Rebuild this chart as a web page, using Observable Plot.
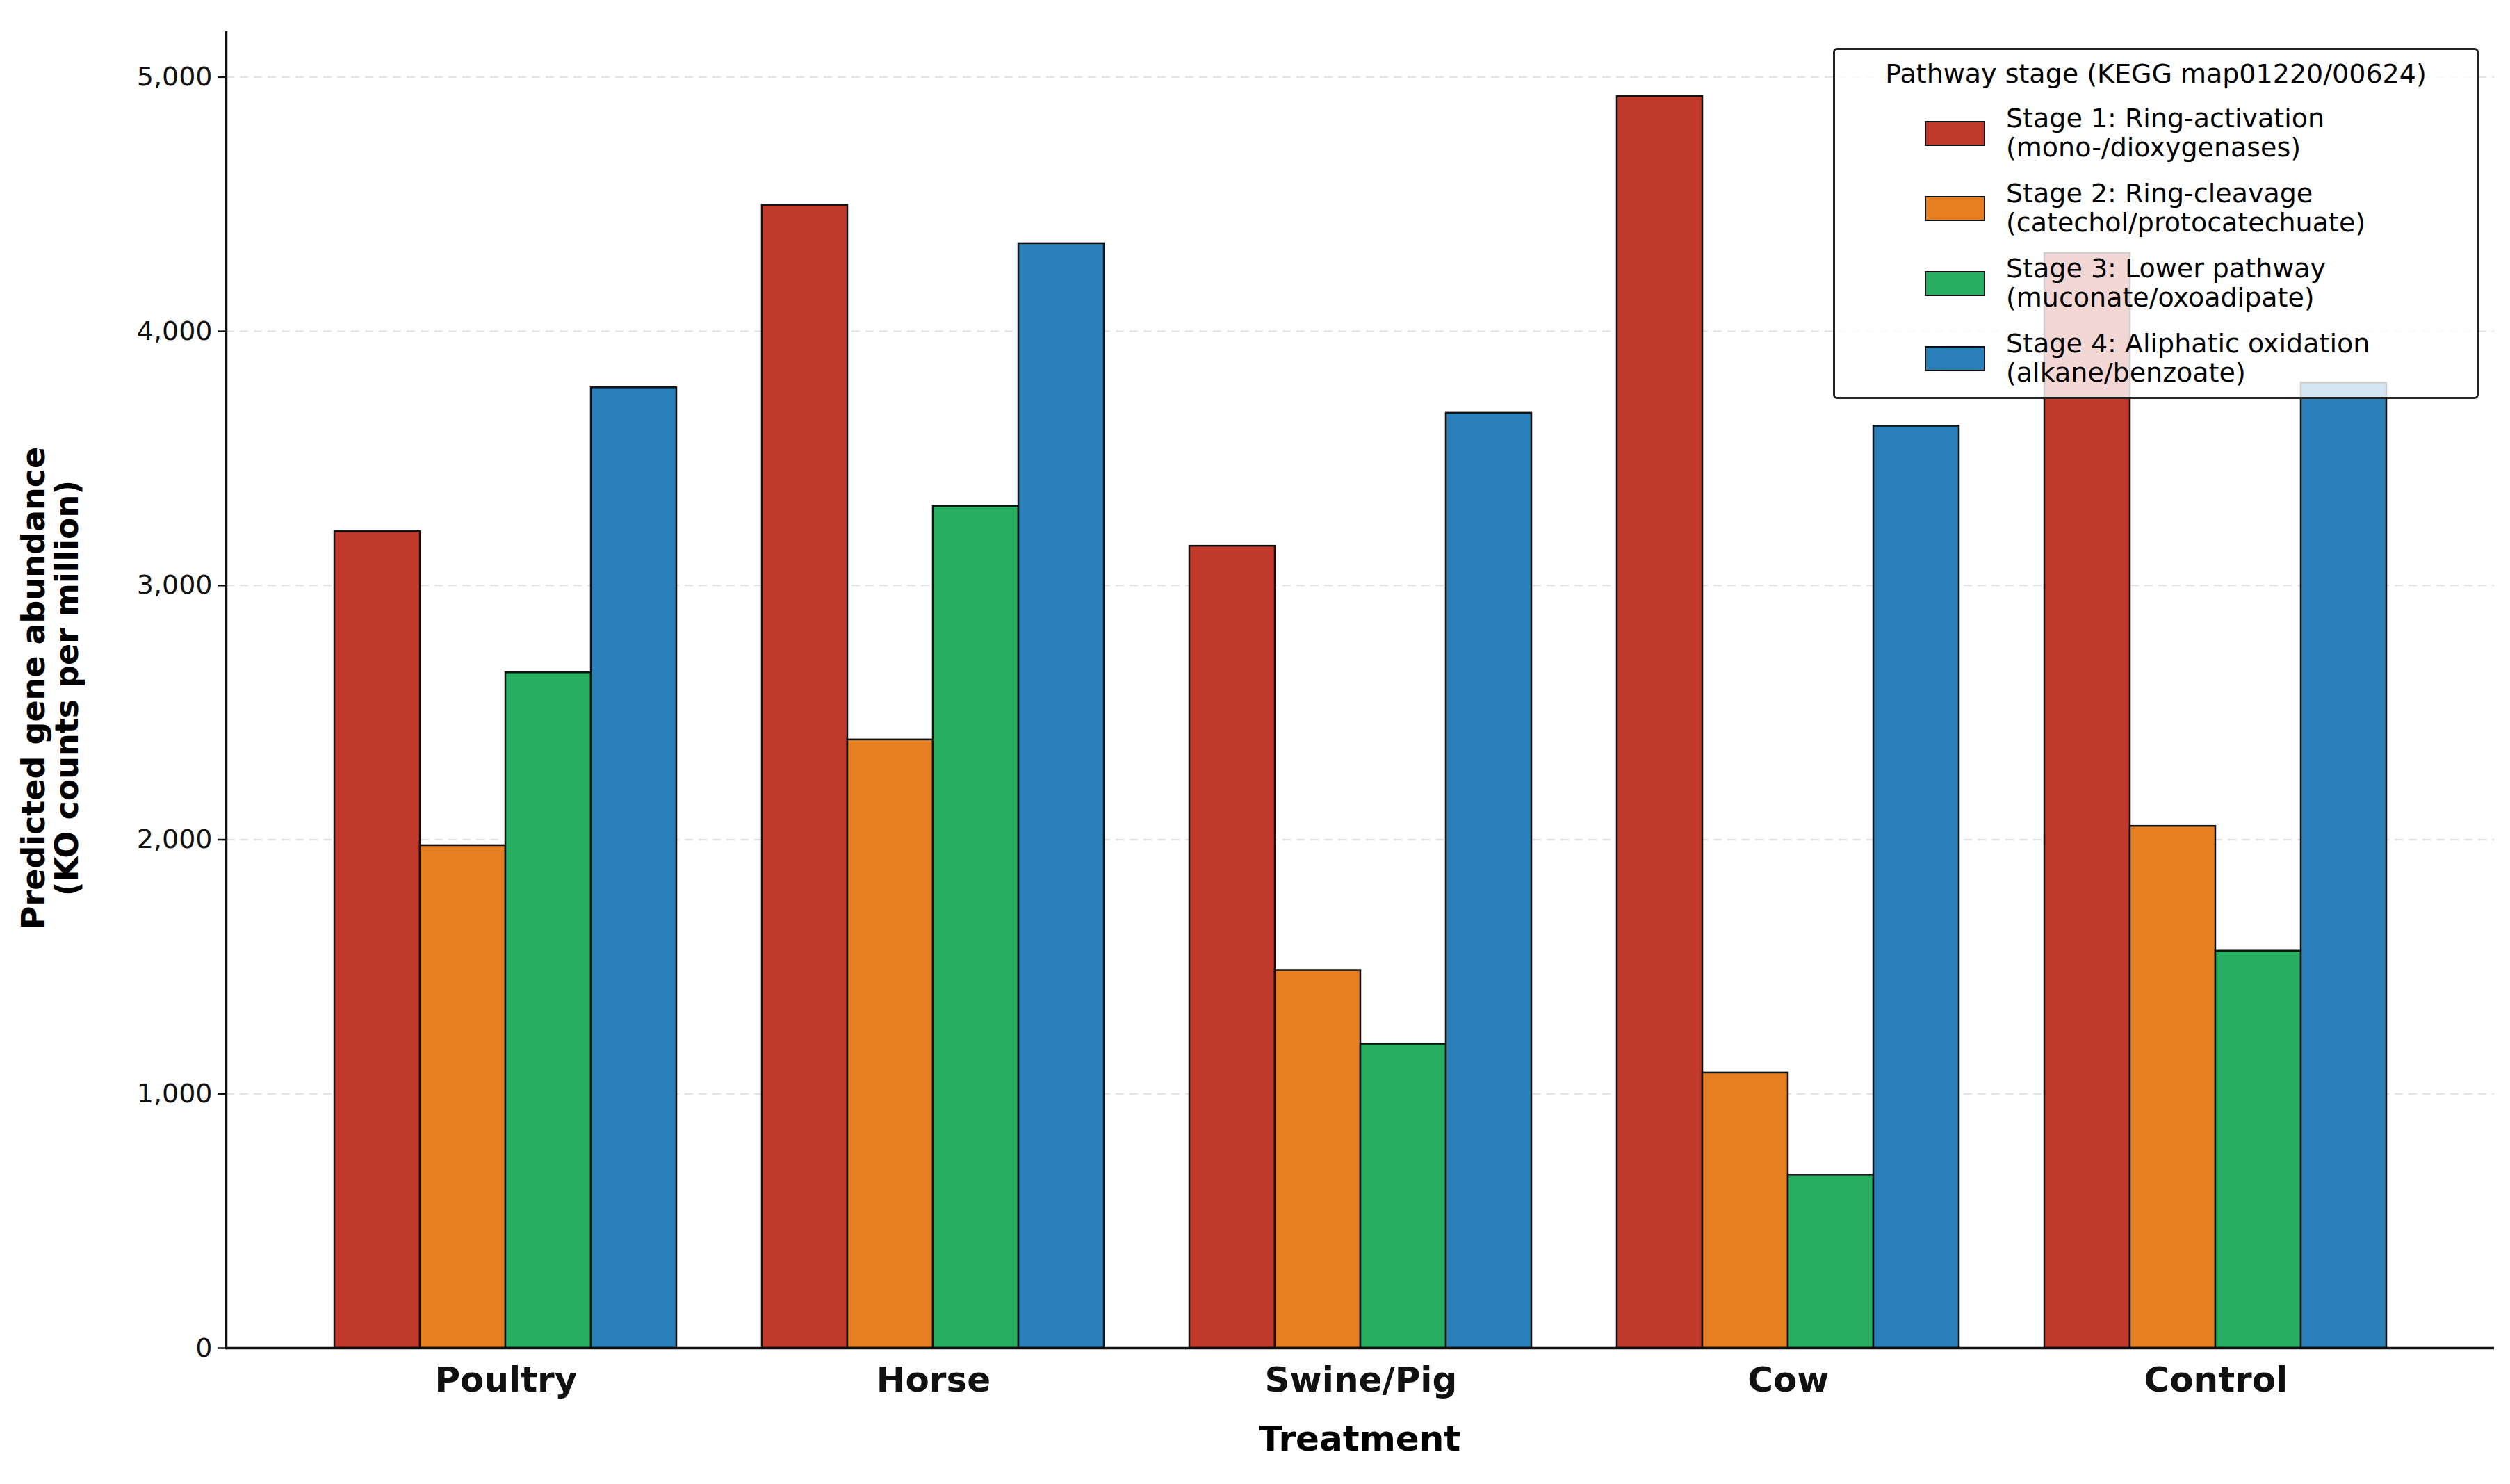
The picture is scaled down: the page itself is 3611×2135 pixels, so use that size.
<!DOCTYPE html>
<html><head><meta charset="utf-8">
<script src="https://cdn.jsdelivr.net/npm/d3@7"></script>
<script src="https://cdn.jsdelivr.net/npm/@observablehq/plot@0.6"></script>
<style>
body{margin:0;background:#fff;font-family:"DejaVu Sans",sans-serif;}
#wrap{position:relative;width:3611px;height:2135px;}
#ylab{position:absolute;left:72px;top:990px;transform:translate(-50%,-50%) rotate(-90deg);font-weight:bold;font-size:46px;text-align:center;line-height:1.05;white-space:nowrap;}
#xlab{position:absolute;left:1956px;top:2070px;transform:translate(-50%,-50%);font-weight:bold;font-size:50px;}
#legend{position:absolute;left:2637px;top:69px;width:929px;height:505px;box-sizing:border-box;border:3px solid #222;border-radius:6px;background:rgba(255,255,255,0.8);font-size:38px;padding:12px 16px;}
#legend .t{text-align:center;margin-bottom:10px;}
#legend .r{display:flex;align-items:center;height:108px;}
#legend .s{width:83px;height:32px;border:2.5px solid #111;margin:0 30px 0 113px;flex:none;}
#legend .l{line-height:1.1;}
</style></head><body>
<div id="wrap"><div id="chart"></div>
<div id="ylab">Predicted gene abundance<br>(KO counts per million)</div>
<div id="xlab">Treatment</div>
<div id="legend"></div></div>
<script>
const treatments=["Poultry","Horse","Swine/Pig","Cow","Control"];
const stages=["Stage 1: Ring-activation\n(mono-/dioxygenases)","Stage 2: Ring-cleavage\n(catechol/protocatechuate)","Stage 3: Lower pathway\n(muconate/oxoadipate)","Stage 4: Aliphatic oxidation\n(alkane/benzoate)"];
const colors=["#c0392b","#e67e22","#27ae60","#2980b9"];
const stage1=[3212,4496,3155,4924,4307];
const stage2=[1977,2393,1486,1083,2053];
const stage3=[2657,3312,1196,680,1562];
const stage4=[3778,4345,3678,3627,3797];
const yTicks=[0,1000,2000,3000,4000,5000];
const series=[stage1,stage2,stage3,stage4];
const data=[];
treatments.forEach((t,i)=>series.forEach((s,j)=>data.push({key:t+"|"+j,t,stage:stages[j],v:s[i]})));
const xDomain=[];
treatments.forEach((t,i)=>{for(let j=0;j<4;j++)xDomain.push(t+"|"+j); if(i<treatments.length-1)xDomain.push("gap"+i);});
const W=3611,ML=325,MR=23;
const step=(W-ML-MR)/(xDomain.length+2*1.18);
const chart=Plot.plot({
  width:W,height:2135,marginLeft:ML,marginRight:MR,marginTop:46,marginBottom:196,
  style:{fontFamily:"DejaVu Sans",fontSize:"38px",color:"#111"},
  x:{domain:xDomain,paddingInner:0,paddingOuter:1.18,axis:null},
  y:{domain:[0,5176],label:null},
  color:{domain:stages,range:colors},
  marks:[
    Plot.gridY(yTicks,{stroke:"#ccc",strokeOpacity:0.6,strokeDasharray:"12,8",strokeWidth:2}),
    Plot.barY(data,{x:"key",y:"v",fill:"stage",stroke:"#111",strokeWidth:2.5,insetLeft:0,insetRight:0}),
    Plot.axisY(yTicks,{tickSize:12,tickPadding:8,strokeWidth:2.5,fontSize:38,label:null}),
    Plot.text(treatments,{x:d=>d+"|1",frameAnchor:"bottom",dx:step/2,dy:62,text:d=>d,fontSize:50,fontWeight:"bold"}),
    Plot.ruleY([0],{stroke:"#111",strokeWidth:3.5}),
    Plot.frame({anchor:"left",stroke:"#111",strokeWidth:3.5})
  ]
});
document.getElementById("chart").appendChild(chart);
const lg=document.getElementById("legend");
lg.innerHTML='<div class="t">Pathway stage (KEGG map01220/00624)</div>'+stages.map((s,i)=>`<div class="r"><div class="s" style="background:${colors[i]}"></div><div class="l">${s.replace("\n","<br>")}</div></div>`).join("");
</script></body></html>
